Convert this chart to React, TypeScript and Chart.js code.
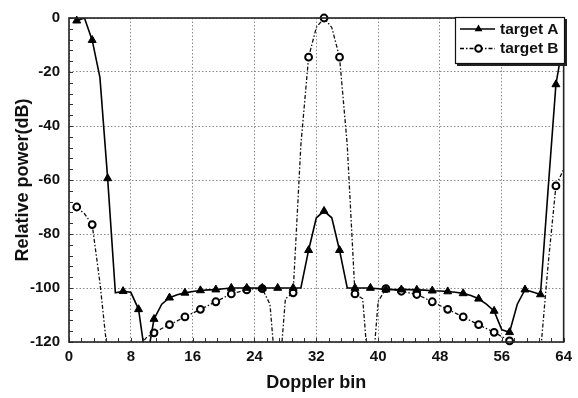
import { useEffect, useRef } from "react";
import { Chart, registerables } from "chart.js";

Chart.register(...registerables);

// Doppler bins 1..64
const bins = [
  1, 2, 3, 4, 5, 6, 7, 8, 9, 10, 11, 12, 13, 14, 15, 16,
  17, 18, 19, 20, 21, 22, 23, 24, 25, 26, 27, 28, 29, 30, 31, 32,
  33, 34, 35, 36, 37, 38, 39, 40, 41, 42, 43, 44, 45, 46, 47, 48,
  49, 50, 51, 52, 53, 54, 55, 56, 57, 58, 59, 60, 61, 62, 63, 64,
];

// Relative power (dB) of target A per Doppler bin
const targetA = [
  -1, 0, -8.2, -22, -59.4, -101.8, -101.2, -101.6,
  -107.9, -128, -111.5, -106, -103.6, -102.5, -101.8, -101.3,
  -100.9, -100.7, -100.6, -100.3, -100, -100, -100, -100,
  -100, -100, -100, -100, -100, -100, -86, -74,
  -71.5, -74, -86, -100, -100, -100, -100, -100.3,
  -100.6, -100.6, -100.6, -100.6, -100.7, -100.8, -101, -101.1,
  -101.3, -101.6, -102, -102.8, -104, -106, -108.5, -115.5,
  -116.4, -106, -100.6, -101.5, -102.4, -63, -24.6, -8,
];

// Relative power (dB) of target B per Doppler bin
const targetB = [
  -70, -72.5, -76.5, -98, -125, -138, -145, -135,
  -122, -118.4, -116.6, -115, -113.6, -112.2, -110.7, -109.3,
  -107.9, -106.5, -105.1, -103.6, -102.2, -101.4, -100.7, -100.3,
  -100.2, -106, -140, -104, -101.8, -47, -14.5, -3.5,
  0, -3.5, -14.5, -47, -102.2, -104, -140, -105,
  -100.2, -100.6, -101.2, -101.8, -102.4, -103.7, -105.1, -106.5,
  -107.9, -109.3, -110.7, -112.2, -113.6, -115, -116.4, -118,
  -119.6, -128, -140, -132, -124, -91, -62.2, -56,
];

const seriesNames = ["target A", "target B"];
const xTicks = [0, 8, 16, 24, 32, 40, 48, 56, 64];
const yTicks = [-120, -100, -80, -60, -40, -20, 0];

const FONT = '"Liberation Sans", Arial, sans-serif';
const Y_MIN = -120;
const Y_MAX = 0;
const B_DASH = [4, 2, 1.5, 2];

const toPoints = (vals: number[]) => bins.map((b, i) => ({ x: b, y: vals[i] }));

// markers on every other bin (odd bins), hidden when below the axis range
const markerRadius = (r: number) => (ctx: any) => {
  const p = ctx.raw;
  if (!p) return 0;
  if (p.x % 2 !== 1) return 0;
  if (p.y < Y_MIN - 1) return 0;
  return r;
};

function drawTriangle(ctx: CanvasRenderingContext2D, x: number, y: number, r: number) {
  const h = r * 1.5;
  const half = (r * Math.sqrt(3)) / 2;
  ctx.beginPath();
  ctx.moveTo(x, y - r);
  ctx.lineTo(x + half, y + h - r);
  ctx.lineTo(x - half, y + h - r);
  ctx.closePath();
  ctx.fill();
}

const framePlugin = {
  id: "frameAndMinorTicks",
  afterDraw(chart: any) {
    const { ctx, chartArea: a, scales } = chart;
    const xs = scales.x;
    const ys = scales.y;
    ctx.save();
    // minor ticks along the bottom and left axes
    ctx.strokeStyle = "#333";
    ctx.lineWidth = 1;
    ctx.beginPath();
    for (let k = 0; k <= 40; k++) {
      const px = Math.round(xs.getPixelForValue(k * 1.6)) + 0.5;
      ctx.moveTo(px, a.bottom);
      ctx.lineTo(px, a.bottom - 4);
    }
    for (let k = 0; k <= 30; k++) {
      const py = Math.round(ys.getPixelForValue(Y_MIN + k * 4)) + 0.5;
      ctx.moveTo(a.left, py);
      ctx.lineTo(a.left + 4, py);
    }
    ctx.stroke();
    // plot frame
    ctx.strokeStyle = "#222";
    ctx.lineWidth = 1.6;
    ctx.strokeRect(a.left, a.top, a.right - a.left, a.bottom - a.top);

    // legend box in the upper right corner
    const bx = 455;
    const by = a.top - 1;
    const bw = 110;
    const bh = 47;
    ctx.fillStyle = "#222";
    ctx.fillRect(bx + 2, by + 2, bw, bh);
    ctx.fillStyle = "#fff";
    ctx.fillRect(bx, by, bw, bh);
    ctx.strokeStyle = "#111";
    ctx.lineWidth = 1.2;
    ctx.strokeRect(bx + 0.5, by + 0.5, bw - 1, bh - 1);

    const rows = [by + 12, by + 31.5];
    const x0 = bx + 5;
    const x1 = bx + 40;
    const xm = (x0 + x1) / 2 + 1;

    // target A sample
    ctx.strokeStyle = "#000";
    ctx.fillStyle = "#000";
    ctx.lineWidth = 1.5;
    ctx.setLineDash([]);
    ctx.beginPath();
    ctx.moveTo(x0, rows[0]);
    ctx.lineTo(x1, rows[0]);
    ctx.stroke();
    drawTriangle(ctx, xm, rows[0], 4.5);

    // target B sample
    ctx.lineWidth = 1.3;
    ctx.setLineDash(B_DASH);
    ctx.beginPath();
    ctx.moveTo(x0, rows[1]);
    ctx.lineTo(x1, rows[1]);
    ctx.stroke();
    ctx.setLineDash([]);
    ctx.beginPath();
    ctx.arc(xm, rows[1], 3.3, 0, Math.PI * 2);
    ctx.fillStyle = "#fff";
    ctx.fill();
    ctx.lineWidth = 2;
    ctx.strokeStyle = "#000";
    ctx.stroke();

    ctx.fillStyle = "#111";
    ctx.font = `bold 15.5px ${FONT}`;
    ctx.textAlign = "left";
    ctx.textBaseline = "middle";
    ctx.fillText(seriesNames[0], bx + 45, rows[0] + 0.5);
    ctx.fillText(seriesNames[1], bx + 45, rows[1] + 0.5);
    ctx.restore();
  },
};

export default function App() {
  const canvasRef = useRef<HTMLCanvasElement | null>(null);

  useEffect(() => {
    const canvas = canvasRef.current;
    if (!canvas) return;
    const chart = new Chart(canvas, {
      type: "line",
      data: {
        datasets: [
          {
            label: seriesNames[0] + " markers",
            data: toPoints(targetA),
            showLine: false,
            pointStyle: "triangle",
            pointRadius: markerRadius(4.6),
            pointBackgroundColor: "#000",
            pointBorderColor: "#000",
            pointBorderWidth: 1,
            clip: false,
          },
          {
            label: seriesNames[0],
            data: toPoints(targetA),
            borderColor: "#000",
            borderWidth: 1.6,
            pointRadius: 0,
            tension: 0,
          },
          {
            label: seriesNames[1] + " markers",
            data: toPoints(targetB),
            showLine: false,
            pointStyle: "circle",
            pointRadius: markerRadius(3.4),
            pointBackgroundColor: "#fff",
            pointBorderColor: "#000",
            pointBorderWidth: 2,
            clip: false,
          },
          {
            label: seriesNames[1],
            data: toPoints(targetB),
            borderColor: "#111",
            borderWidth: 1.3,
            borderDash: B_DASH,
            pointRadius: 0,
            tension: 0,
          },
        ],
      },
      options: {
        animation: false,
        responsive: false,
        devicePixelRatio: 1,
        layout: { padding: { top: 12, right: 13, left: 0, bottom: 0 } },
        plugins: {
          legend: { display: false },
          tooltip: { enabled: false },
        },
        scales: {
          x: {
            type: "linear",
            min: 0,
            max: 64,
            afterFit: (s: any) => {
              s.height = 56;
            },
            afterBuildTicks: (s: any) => {
              s.ticks = xTicks.map((v) => ({ value: v }));
            },
            ticks: {
              color: "#111",
              padding: 6,
              maxRotation: 0,
              autoSkip: false,
              font: { family: FONT, size: 15, weight: "bold" },
            },
            grid: {
              color: "#8a8a8a",
              lineWidth: 1,
              drawTicks: false,
            },
            border: { display: false, dash: [1.5, 2] },
            title: {
              display: true,
              text: "Doppler bin",
              color: "#111",
              font: { family: FONT, size: 18, weight: "bold" },
              padding: { top: 0, bottom: 4 },
            },
          },
          y: {
            type: "linear",
            min: Y_MIN,
            max: Y_MAX,
            afterFit: (s: any) => {
              s.width = 69;
            },
            afterBuildTicks: (s: any) => {
              s.ticks = yTicks.map((v) => ({ value: v }));
            },
            ticks: {
              color: "#111",
              padding: 9,
              autoSkip: false,
              font: { family: FONT, size: 15, weight: "bold" },
            },
            grid: {
              color: "#8a8a8a",
              lineWidth: 1,
              drawTicks: false,
            },
            border: { display: false, dash: [1.5, 2] },
            title: {
              display: true,
              text: "Relative power(dB)",
              color: "#111",
              font: { family: FONT, size: 18, weight: "bold" },
              padding: { top: 12, bottom: 0 },
            },
          },
        },
      },
      plugins: [framePlugin],
    });
    return () => chart.destroy();
  }, []);

  return (
    <div style={{ position: "fixed", left: 0, top: 0, width: 578, height: 398, background: "#fff" }}>
      <canvas ref={canvasRef} width={578} height={398} style={{ display: "block", width: 578, height: 398 }} />
    </div>
  );
}
